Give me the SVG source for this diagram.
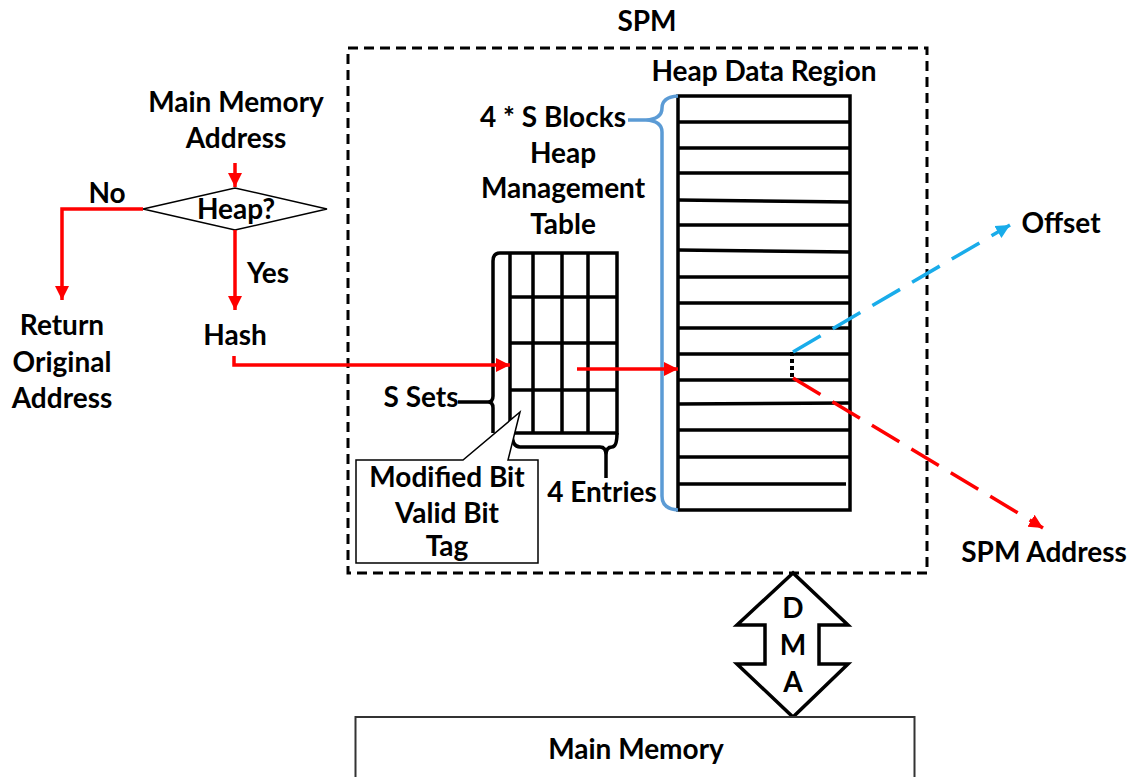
<svg xmlns="http://www.w3.org/2000/svg" width="1132" height="777" viewBox="0 0 1132 777">
  <style>
    .t { font-family: Lato, "Liberation Sans", sans-serif; font-weight: 700; font-size: 28px; fill: #000; text-anchor: middle; }
    .thick { fill: none; stroke: #000; stroke-width: 3.5; }
    .thin { fill: #fff; stroke: #000; stroke-width: 1.5; }
    .red { fill: none; stroke: #ff0000; stroke-width: 3.5; }
    .reddash { fill: none; stroke: #ff0000; stroke-width: 3.5; stroke-dasharray: 32 14; }
    .bluedash { fill: none; stroke: #19acea; stroke-width: 3.5; stroke-dasharray: 32 14; }
  </style>
  <defs>
    <marker id="headRed" markerUnits="userSpaceOnUse" markerWidth="16" markerHeight="16" refX="14" refY="8" orient="auto">
      <path d="M0,1 L14,8 L0,15 z" fill="#ff0000"/>
    </marker>
    <marker id="headBlue" markerUnits="userSpaceOnUse" markerWidth="16" markerHeight="16" refX="14" refY="8" orient="auto">
      <path d="M0,1 L14,8 L0,15 z" fill="#19acea"/>
    </marker>
  </defs>

  <rect width="1132" height="777" fill="#fff"/>

  <!-- SPM container -->
  <g id="spm">
    <rect x="348" y="48" width="579" height="525" fill="none" stroke="#000" stroke-width="3" stroke-dasharray="10 6"/>
    <text class="t" x="647" y="31">SPM</text>
  </g>

  <!-- flowchart: address check -->
  <g id="main-memory-address">
    <text class="t" x="236" y="112">Main Memory</text>
    <text class="t" x="236" y="148">Address</text>
  </g>
  <g id="heap-decision">
    <polygon class="thin" points="143,209 235,188 327,209 235,230"/>
    <text class="t" x="236" y="219">Heap?</text>
  </g>
  <g id="return-original">
    <text class="t" x="62" y="335">Return</text>
    <text class="t" x="62" y="372">Original</text>
    <text class="t" x="62" y="408">Address</text>
  </g>
  <g id="hash">
    <text class="t" x="235" y="345">Hash</text>
  </g>

  <!-- heap management table -->
  <g id="heap-management-table">
    <text class="t" x="563" y="163">Heap</text>
    <text class="t" x="563" y="198">Management</text>
    <text class="t" x="563" y="234">Table</text>
    <!-- grid -->
    <path class="thick" d="M500,253 H617 V433 H510 V253 M533,253 V433 M562,253 V433 M588,253 V433 M510,297 H617 M510,343 H617 M510,390 H617"/>
    <!-- set bracket -->
    <path class="thick" d="M500,253 Q493,253 493,261 V396 Q493,402 488,402 H458 M488,402 Q493,402 493,408 V433"/>
    <text class="t" x="421" y="407">S Sets</text>
    <!-- entry bracket -->
    <path class="thick" d="M512,433 Q512,447 520,447 H600 Q606,447 606,455 V478 M606,455 Q606,447 612,447 Q617,447 617,433"/>
    <text class="t" x="602" y="502">4 Entries</text>
  </g>

  <!-- entry field callout -->
  <g id="entry-callout">
    <path class="thin" d="M356,460 H463 L520,412 L508,460 H538 V563 H356 Z"/>
    <text class="t" x="447" y="487">Modified Bit</text>
    <text class="t" x="447" y="523">Valid Bit</text>
    <text class="t" x="447" y="556">Tag</text>
  </g>

  <!-- heap data region -->
  <g id="heap-data-region">
    <text class="t" x="764" y="81">Heap Data Region</text>
    <rect x="678" y="96" width="172" height="414" fill="none" stroke="#000" stroke-width="3.5"/>
    <path class="thick" d="M678,122 H850 M678,148 H850 M678,173 H850 M678,200 L850,202 M678,225 H850 M678,250 L850,252 M678,277 H850 M678,303 H850 M678,328 H850 M678,354 H850 M678,380 H850 M678,404 L850,403 M678,430 H850 M678,457 H850 M678,484 H846"/>
    <path d="M678,96 Q662,97 662,108 Q662,119 646,120 H628 M646,120 Q662,121 662,132 V496 Q662,509 678,510" fill="none" stroke="#5b9bd5" stroke-width="3.5"/>
    <text class="t" x="553" y="127">4 * S Blocks</text>
  </g>

  <!-- outputs -->
  <g id="offset">
    <text class="t" x="1061" y="233">Offset</text>
  </g>
  <g id="spm-address">
    <text class="t" x="1044" y="562">SPM Address</text>
  </g>

  <!-- DMA link and main memory -->
  <g id="dma">
    <polygon points="793,573 737,625 765,625 765,664 737,664 793,717 848,664 819,664 819,625 848,625" fill="#fff" stroke="#000" stroke-width="3.5" stroke-linejoin="miter"/>
    <text class="t" x="793" y="618">D</text>
    <text class="t" x="793" y="655">M</text>
    <text class="t" x="793" y="692">A</text>
  </g>
  <g id="main-memory">
    <rect x="355.5" y="717" width="559" height="70" fill="#fff" stroke="#333" stroke-width="2"/>
    <text class="t" x="636" y="759">Main Memory</text>
  </g>

  <!-- connectors -->
  <g id="connectors">
    <path class="red" d="M235,163 V187" marker-end="url(#headRed)"/>
    <path class="red" d="M143,209 H62 V300" marker-end="url(#headRed)"/>
    <path class="red" d="M235,230 V310" marker-end="url(#headRed)"/>
    <text class="t" x="107" y="203">No</text>
    <text class="t" x="268" y="283">Yes</text>
    <path class="red" d="M234,356 V365 H510" marker-end="url(#headRed)"/>
    <path class="red" d="M577,369 H678" marker-end="url(#headRed)"/>
    <path d="M792,352 V378" fill="none" stroke="#000" stroke-width="4" stroke-dasharray="4 3"/>
    <path class="bluedash" d="M793,352 L1010,225" marker-end="url(#headBlue)"/>
    <path class="reddash" d="M793,378 L1043,528" marker-end="url(#headRed)"/>
  </g>
</svg>
